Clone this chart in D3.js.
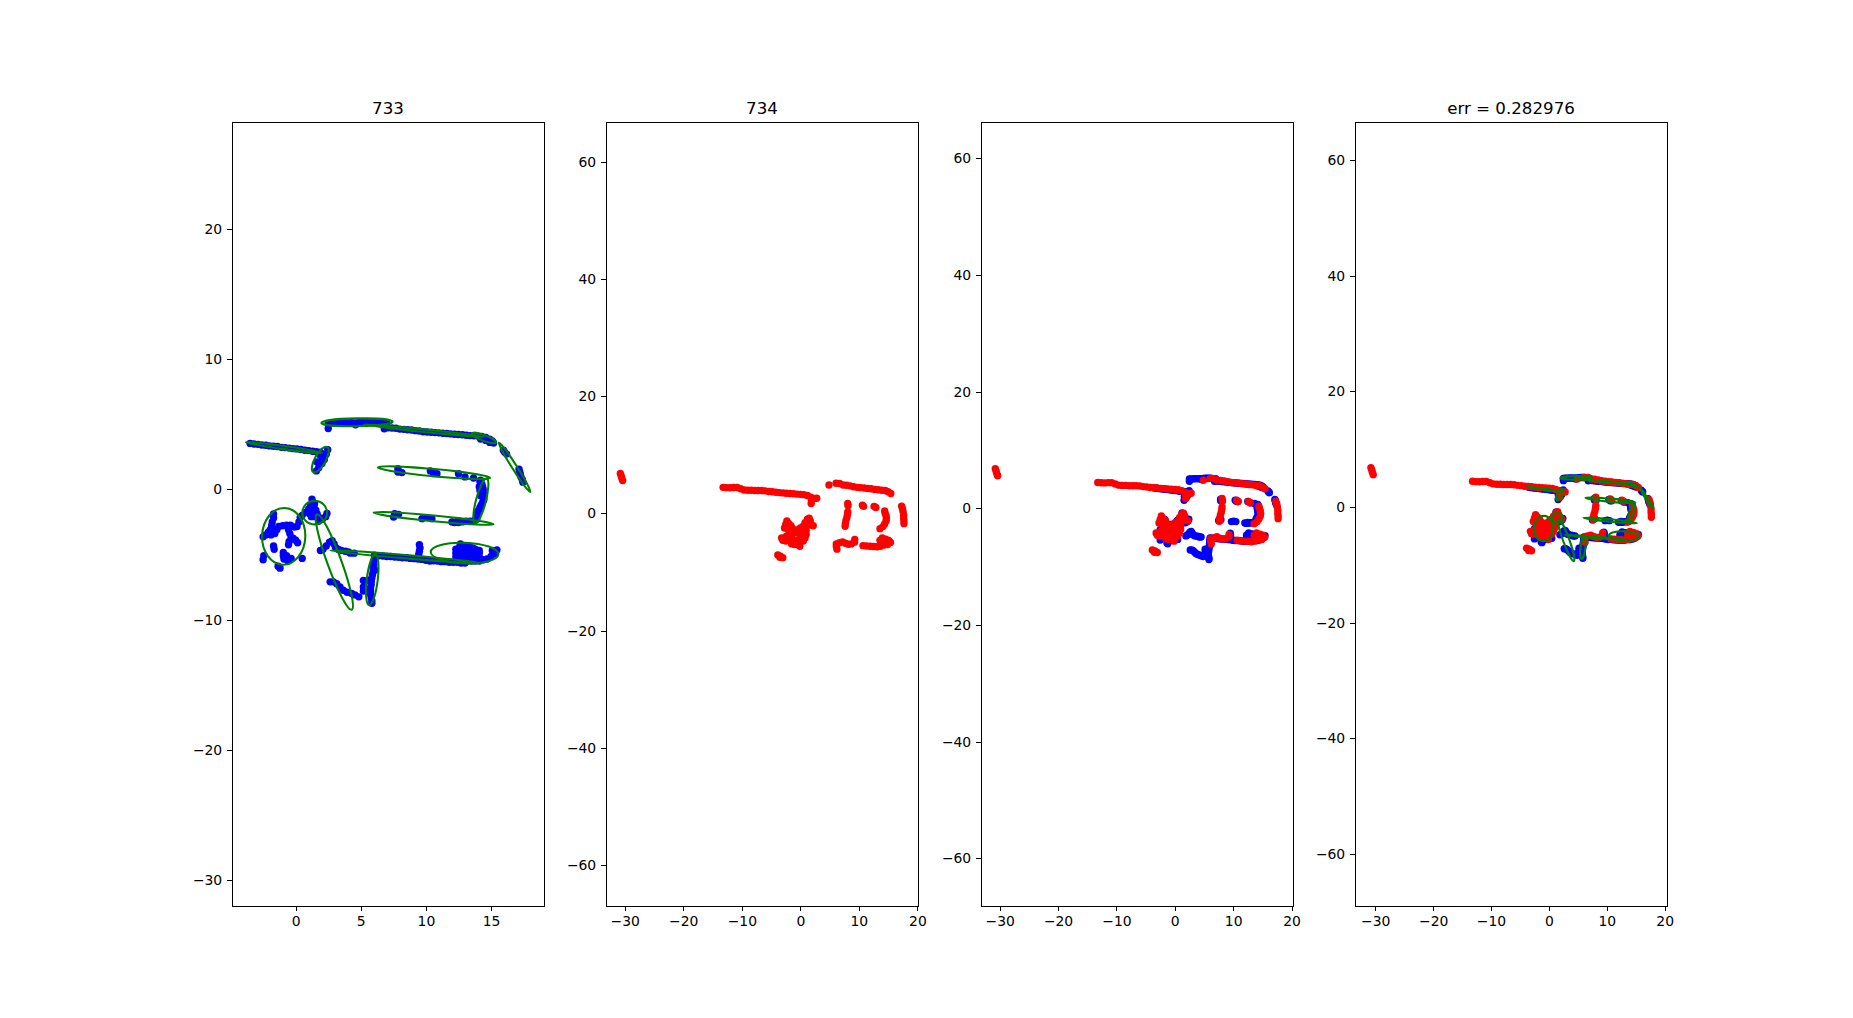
<!DOCTYPE html>
<html>
<head>
<meta charset="utf-8">
<title>scan match</title>
<script src="https://cdn.jsdelivr.net/npm/d3@7"></script>
<style>
html, body { margin: 0; padding: 0; background: #fff; overflow: hidden; }
text { font-family: "DejaVu Sans", sans-serif; }
</style>
</head>
<body>
<div id="chart"></div>
<script>
var titles = ["733", "734", "", "err = 0.282976"];

// axis limits of the four panels
var xLimits = [[-4.89, 19.07], [-33.2, 20.1], [-33.2, 20.25], [-33.5, 20.4]];
var yLimits = [[-31.97, 28.18], [-67.0, 66.8], [-68.15, 66.25], [-68.95, 66.55]];
var xTicks1 = [0, 5, 10, 15];
var yTicks1 = [-30, -20, -10, 0, 10, 20];
var xTicks = [-30, -20, -10, 0, 10, 20];
var yTicks = [-60, -40, -20, 0, 20, 40, 60];

// scan 733
var blue733 = [
    // left top line
    [-3.5,3.52],[-3.2,3.47],[-2.9,3.45],[-2.6,3.4],[-2.3,3.38],[-2.0,3.33],[-1.7,3.3],[-1.4,3.28],[-1.1,3.22],[-0.8,3.2],
    [-0.5,3.16],[-0.2,3.12],[0.1,3.1],[0.4,3.05],[0.7,3.0],[1.0,2.97],[1.3,2.92],[1.6,2.88],[1.9,2.85],
    [2.46,3.04],[2.35,2.69],[2.2,2.28],[2.02,1.97],[1.77,1.66],[1.59,1.41],[1.89,2.61],[1.64,2.1],[2.05,2.43],[1.84,1.97],
    // top line
    [2.5,4.66],[2.5,5.05],[2.8,5.08],[3.1,5.08],[3.4,5.1],[3.7,5.12],[4.0,5.1],[4.3,5.12],[4.6,5.1],[4.6,4.95],[4.9,5.15],
    [5.2,5.18],[5.5,5.2],[5.8,5.2],[6.1,5.18],[6.4,5.16],[6.7,5.12],[7.0,5.1],
    [6.8,4.65],[7.1,4.72],[7.4,4.7],[7.7,4.68],[8,4.62],[8.3,4.6],[8.6,4.57],[8.9,4.55],[9.2,4.5],[9.5,4.47],[9.8,4.42],
    [10.1,4.4],[10.4,4.38],[10.7,4.35],[11,4.33],[11.3,4.3],[11.6,4.28],[11.9,4.25],[12.2,4.22],[12.5,4.2],[12.8,4.18],
    [13.1,4.15],[13.4,4.12],[13.7,4.1],[14,4.08],[14.3,4.05],[14.6,3.98],[14.9,3.85],[15.1,3.7],[15.2,3.55],[14.6,3.75],[14.2,3.85],[14.9,3.6],
    // right tail
    [15.95,3.0],[16.05,2.85],[16.2,2.7],[17.15,1.55],[17.2,1.35],[17.25,1.15],[17.3,0.95],[17.4,0.75],[17.45,0.55],
    // upper middle
    [7.85,1.59],[7.85,1.33],[8.16,1.28],[10.34,1.41],[10.59,1.2],[10.85,1.2],[12.5,1.2],[13.0,0.95],[13.66,0.87],[14.2,0.7],
    [14.15,0.6],[14.3,0.4],[14.35,0.2],[14.4,0],[14.4,-0.2],[14.45,-0.4],[14.45,-0.6],[14.45,-0.8],[14.35,-1],[14.25,-1.2],
    [14.15,-1.4],[14.05,-1.6],[13.95,-1.8],[13.9,-2.0],[14.1,0.2],[14.15,-0.1],[14.2,-0.5],
    // lower middle
    [7.6,-1.87],[7.52,-2.12],[7.9,-1.92],[9.7,-2.25],[10.08,-2.17],[10.46,-2.25],
    [12,-2.5],[12.2,-2.55],[12.5,-2.4],[12.8,-2.5],[13.1,-2.45],[13.4,-2.45],[13.7,-2.4],[13.9,-2.3],[12.5,-2.55],
    // left cluster
    [-1.7,-1.9],[-1.7,-2.2],[-1.8,-2.5],[-1.85,-2.8],[-1.95,-3.1],[-2.1,-3.3],[-2.3,-3.5],[-2.5,-3.65],[-1.6,-3.4],[-1.9,-3.5],
    [-1.45,-3.1],[-1.3,-2.85],[-1.0,-2.8],[-0.7,-2.75],[-0.4,-2.75],[-0.1,-2.9],[0.1,-2.85],[0.25,-2.5],[0.35,-2.15],[-0.55,-3.1],
    [-0.45,-3.4],[-0.35,-3.7],[-0.5,-4.0],[-0.55,-4.25],[-0.2,-3.75],[0,-3.9],[0.15,-4.1],[-1.7,-4.35],[-1.65,-4.6],[-0.95,-4.85],
    [-0.7,-5.1],[-0.9,-5.35],[-0.6,-5.5],[0.5,-5.3],[-2.45,-5.1],[-2.5,-5.4],[-1.35,-5.9],[-1.2,-6.05],[-0.35,-5.3],[-0.95,-5.1],
    // small cluster
    [1.25,-0.75],[1.3,-0.95],[1.45,-1.1],[1.15,-1.25],[1.4,-1.35],[1.0,-1.5],[1.25,-1.6],[1.55,-1.6],[0.8,-1.75],[1.05,-1.85],
    [1.35,-1.9],[1.65,-1.9],[0.5,-2.0],[1.2,-2.1],[1.5,-2.1],[1.85,-2.2],[2.05,-2.3],[2.4,-1.85],[2.3,-2.1],[1.75,-2.45],
    // diagonal pieces
    [1.9,-4.7],[2.1,-4.6],[2.35,-4.35],[2.6,-4.05],[2.8,-3.95],[2.95,-4.2],[3.05,-4.45],[3.25,-4.6],[3.5,-4.7],[3.8,-4.75],[4.05,-4.8],
    [2.65,-7.1],[2.9,-7.1],[3.15,-7.25],[3.4,-7.5],[3.65,-7.75],[3.95,-7.9],[4.3,-8.0],[4.55,-8.1],[4.85,-8.25],
    // lower vertical
    [6.05,-5.05],[6.05,-5.3],[6,-5.55],[6,-5.8],[5.95,-6.05],[5.95,-6.3],[5.9,-6.55],[5.85,-6.8],[5.8,-7.05],[5.8,-7.3],
    [5.75,-7.55],[5.75,-7.8],[5.75,-8.05],[5.8,-8.3],[5.85,-8.55],[5.85,-8.75],[5.55,-7],[5.2,-7.0],[5.2,-7.5],[5.2,-7.8],[6.1,-6.2],
    // lower line
    [4.2,-4.9],[4.5,-4.9],[6.4,-5.1],[6.7,-5.12],[7,-5.15],[7.3,-5.16],[7.6,-5.2],[7.9,-5.22],[8.2,-5.25],[8.5,-5.25],[8.8,-5.3],
    [9.1,-5.32],[9.4,-5.35],[9.7,-5.38],[10,-5.45],[10.3,-5.5],[10.6,-5.48],[10.9,-5.5],[11.2,-5.55],[11.5,-5.55],[11.8,-5.6],
    [12.1,-5.6],[12.4,-5.6],[12.7,-5.65],[13,-5.65],[9.5,-4.25],[9.55,-4.5],[9.5,-4.75],[9.45,-5.0],
    // right blob
    [12.3,-4.6],[12.6,-4.6],[12.9,-4.6],[13.2,-4.6],[13.5,-4.6],[13.8,-4.6],[14.1,-4.7],
    [12.3,-4.9],[12.6,-4.9],[12.9,-4.9],[13.2,-4.9],[13.5,-4.9],[13.8,-4.9],[14.1,-4.9],
    [12.3,-5.2],[12.6,-5.2],[12.9,-5.2],[13.2,-5.2],[13.5,-5.2],[13.8,-5.2],[14.1,-5.2],
    [12.3,-5.5],[12.6,-5.5],[12.9,-5.5],[13.2,-5.5],[13.5,-5.5],[13.8,-5.5],[14.1,-5.5],
    [12.65,-4.2],[12.6,-4.4],[13.0,-4.4],[13.3,-4.35],[13.6,-4.5],
    [14.4,-5.4],[14.7,-5.35],[15,-5.15],[15.3,-4.95],[15.45,-4.65],[15.1,-4.7]
];

// cx, cy, semi major, semi minor, angle in degrees
var ellipses733 = [
    [-0.9,3.2,2.95,0.12,-8],
    [1.89,2.28,1.1,0.42,61],
    [4.71,5.14,2.74,0.3,1],
    [9.82,4.5,4.64,0.1,-5.9],
    [14.45,3.94,0.98,0.22,-20],
    [16.81,1.69,2.24,0.18,-57.6],
    [10.62,1.28,4.33,0.28,-5.3],
    [14.22,-0.9,1.78,0.38,75.5],
    [10.59,-2.23,4.63,0.22,-5.5],
    [-0.92,-3.61,2.18,1.66,88],
    [1.46,-1.79,0.95,0.9,0],
    [2.97,-5.58,3.9,0.54,-70],
    [5.88,-6.93,1.97,0.42,83],
    [8.42,-5.17,5.78,0.13,-4.8],
    [12.97,-4.89,2.6,0.79,-2]
];

// scan 734
var red734 = [
    [-30.75,6.8],[-30.6,6.4],[-30.5,6.0],[-30.35,5.6],
    // long line
    [-13.2,4.45],[-12.6,4.4],[-12,4.38],[-11.4,4.42],[-10.8,4.42],[-10.2,4.2],[-9.6,4.0],[-9,3.95],[-8.4,3.95],[-7.8,3.9],
    [-7.2,3.9],[-6.6,3.9],[-6,3.85],[-5.4,3.75],[-4.8,3.7],[-4.2,3.6],[-3.6,3.55],[-3,3.5],[-2.4,3.45],[-1.8,3.4],[-1.2,3.35],
    [-0.6,3.3],[0,3.25],[0.6,3.2],[1.2,3.05],[1.8,2.75],[2.4,2.55],[2.8,2.6],[1.9,2.2],[1.85,1.7],
    // top right
    [4.89,4.84],[6.1,5.15],[6.7,5.1],[7.3,4.85],[7.9,4.8],[8.5,4.7],[9.1,4.55],[9.7,4.45],[10.3,4.4],[10.9,4.35],[11.5,4.25],
    [12.1,4.2],[12.7,4.1],[13.3,4.05],[13.9,3.95],[14.5,3.9],[15,3.7],[15.45,3.4],
    // inner pieces
    [8.1,1.7],[8.15,1.3],[8.1,0.25],[8.05,-0.2],[7.95,-0.7],[7.8,-1.2],[7.7,-1.7],[7.65,-2.2],
    [10.6,1.4],[10.8,1.2],[12.6,1.2],[12.9,1.0],
    [14.4,0.4],[14.5,0],[14.65,-0.4],[14.7,-0.85],[14.65,-1.3],[14.4,-1.8],[14.1,-2.25],[13.6,-2.6],
    [17.3,1.25],[17.45,0.8],[17.55,0.3],[17.65,-0.3],[17.65,-0.85],[17.7,-1.3],[17.7,-1.75],
    // bottom right
    [6.25,-6.1],[6.15,-5.6],[6.15,-5.2],[6.7,-5.0],[7.2,-4.85],[7.7,-5.1],[8.2,-5.25],[8.7,-5.2],[9.25,-4.9],[9.3,-4.45],
    [10.7,-5.5],[11.3,-5.55],[11.9,-5.6],[12.5,-5.65],[13.1,-5.7],[13.7,-5.6],[14.3,-5.4],[14.9,-5.3],[15.4,-4.95],[15.1,-4.6],
    [14.6,-4.4],[14,-4.2],[13.6,-4.6],[13.7,-5.1],[14.2,-4.8],[14.8,-4.85],
    // centre cluster
    [-2.3,-1.3],[-2.0,-1.7],[-2.5,-1.9],[-2.7,-2.5],[-1.6,-2.1],[-1.3,-2.6],[-2.2,-2.6],[-1.9,-3.1],[-1.4,-3.2],[-0.9,-2.9],
    [-0.4,-2.8],[0,-2.5],[0.5,-2.2],[0.8,-1.6],[1.2,-1.0],[1.5,-0.8],[1.7,-1.3],[2.2,-2.1],[1.4,-2],[1,-2.9],[0.5,-3],[0,-3.3],
    [-0.4,-3.4],[1,-3.6],[0.8,-4.2],[0.3,-4],[-1.4,-3.7],[-1.8,-4.1],[-2.4,-3.9],[-3.2,-4.2],[-3,-4.6],[-2.5,-4.7],[-2,-4.6],
    [-1.5,-4.5],[-1,-4.7],[-0.5,-4.6],[0,-4.8],[0.5,-4.7],[-1.5,-5.2],[-1,-5.3],[-0.5,-5.3],[-0.1,-5.6],
    [-3.85,-7.1],[-3.4,-7.3],[-3,-7.55],[-3.5,-7.5]
];

// offset of 733 after alignment, last panel only
var alignDx = 0;
var alignDy = -0.1;

function init() {
    var w = 1853;
    var h = 1018;
    var left = 231.6;
    var top = 122;
    var axW = 312;
    var axH = 784;
    var gap = 62.63;
    var dotR = 3.7;

    var svg = d3.select("#chart")
        .append("svg")
        .attr("width", w)
        .attr("height", h)
        .style("display", "block");

    function drawPanel(i, showBlue, showRed, showEllipses, dx, dy) {
        var x0 = Math.round(left + i * (axW + gap));
        var xScale = d3.scaleLinear().domain(xLimits[i]).range([0, axW]);
        var yScale = d3.scaleLinear().domain(yLimits[i]).range([axH, 0]);
        var k = axW / (xLimits[i][1] - xLimits[i][0]);

        var g = svg.append("g")
            .attr("transform", "translate(" + x0 + "," + top + ")");

        function dots(data, colour) {
            g.append("g")
                .selectAll("circle")
                .data(data)
                .enter()
                .append("circle")
                .attr("cx", function (d) { return xScale(d[0]); })
                .attr("cy", function (d) { return yScale(d[1]); })
                .attr("r", dotR)
                .attr("fill", colour);
        }

        if (showBlue) {
            dots(blue733.map(function (d) { return [d[0] + dx, d[1] + dy]; }), "#0000ff");
        }
        if (showRed) {
            dots(red734, "#ff0000");
        }
        if (showEllipses) {
            g.append("g")
                .selectAll("ellipse")
                .data(ellipses733)
                .enter()
                .append("ellipse")
                .attr("transform", function (d) {
                    return "translate(" + xScale(d[0] + dx) + "," + yScale(d[1] + dy) + ") rotate(" + (-d[4]) + ")";
                })
                .attr("rx", function (d) { return d[2] * k; })
                .attr("ry", function (d) { return d[3] * k; })
                .attr("fill", "none")
                .attr("stroke", "#008000")
                .attr("stroke-width", 2.08);
        }

        // ticks sit outside the frame like matplotlib
        var xAxis = d3.axisBottom(xScale)
            .tickValues(i == 0 ? xTicks1 : xTicks)
            .tickSize(4.9)
            .tickPadding(4.9);
        var yAxis = d3.axisLeft(yScale)
            .tickValues(i == 0 ? yTicks1 : yTicks)
            .tickSize(4.9)
            .tickPadding(4.9);

        g.append("g").attr("transform", "translate(0," + axH + ")").call(xAxis);
        g.append("g").call(yAxis);
        g.selectAll(".domain").remove();
        g.selectAll(".tick line")
            .attr("stroke-width", 1)
            .attr("stroke", "#000")
            .attr("shape-rendering", "crispEdges");
        g.selectAll(".tick text")
            .attr("font-family", "DejaVu Sans")
            .attr("font-size", "13.9px")
            .attr("fill", "#000");

        g.append("rect")
            .attr("x", 0.5)
            .attr("y", 0.5)
            .attr("width", axW)
            .attr("height", axH)
            .attr("fill", "none")
            .attr("stroke", "#000")
            .attr("stroke-width", 1)
            .attr("shape-rendering", "crispEdges");

        g.append("text")
            .attr("x", axW / 2)
            .attr("y", -8.3)
            .attr("text-anchor", "middle")
            .attr("font-size", "16.67px")
            .attr("fill", "#000")
            .text(titles[i]);
    }

    drawPanel(0, true, false, true, 0, 0);
    drawPanel(1, false, true, false, 0, 0);
    drawPanel(2, true, true, false, 0, 0);
    drawPanel(3, true, true, true, alignDx, alignDy);
}

window.onload = init;
</script>
</body>
</html>
